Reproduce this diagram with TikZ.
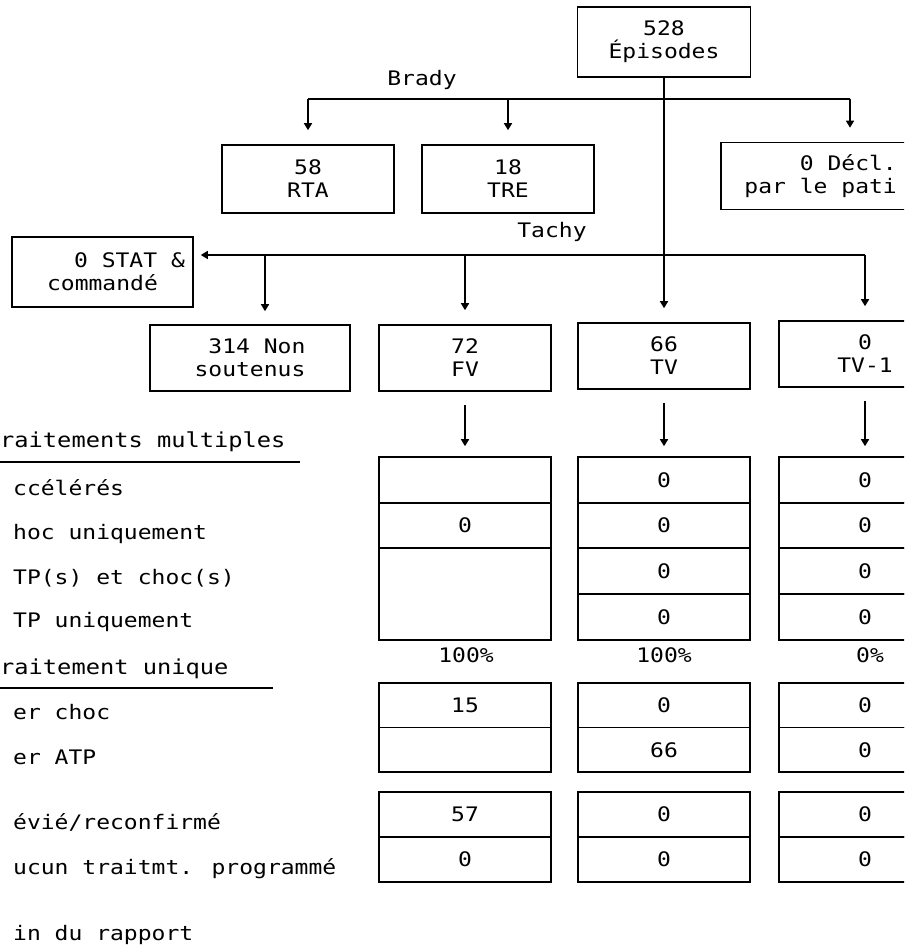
\documentclass[tikz,border=0pt]{standalone}
\usepackage{fontspec}
\setmainfont{DejaVu Sans Mono}[FakeStretch=1.15]
\usetikzlibrary{arrows.meta}
\begin{document}
\begin{tikzpicture}[x=1pt,y=-1pt,
  every node/.style={font=\fontsize{20}{23}\selectfont, inner sep=0pt},
  box/.style={draw, line width=1.6pt, align=center, minimum width=172pt, minimum height=66pt},
  cell/.style={draw, line width=1.6pt, minimum width=172pt, minimum height=45.5pt},
  arr/.style={line width=1.6pt, -{Triangle[length=7pt,width=8pt]}},
  ln/.style={line width=1.6pt},
  lab/.style={anchor=base west},
  hdr/.style={anchor=base west, font=\fontsize{20.6}{23}\selectfont}]
\useasboundingbox (0,0) rectangle (904,952);
\clip (0,0) rectangle (904,952);

% top
\node[box, minimum width=173pt, minimum height=70pt] (ep) at (664,42) {528\\Épisodes};
\node (brady) at (422,80) {Brady};
\coordinate (bj) at (664,99);
\node[box, minimum height=68pt] (rta) at (308,179) {58\\RTA};
\node[box, minimum height=68pt] (tre) at (508,179) {18\\TRE};
\node[box, minimum width=258pt, minimum height=67pt] (decl) at (850,176) {};
\node[anchor=east, align=right] (decltxt) at (897,176) {0 Décl.\\par le pati};

\draw[ln] (rta.north |- bj) -- (decl.north |- bj);
\draw[arr, shorten >=14pt] (rta.north |- bj) -- (rta.north);
\draw[arr, shorten >=14pt] (tre.north |- bj) -- (tre.north);
\draw[arr, shorten >=14pt] (decl.north |- bj) -- (decl.north);

% tachy level
\node (tachy) at (552,232) {Tachy};
\coordinate (tj) at (664,255);
\coordinate (nsdrop) at (265,255);
\node[box, minimum width=181pt, minimum height=70pt] (stat) at (102.5,272) {\hspace*{54pt}0 STAT \&\\commandé};
\node[box, minimum width=200pt, align=right] (ns) at (250,358) {314 Non\\soutenus};
\node[box] (fv) at (465,358) {72\\FV};
\node[box] (tv) at (664,356) {66\\TV};
\node[box] (tv1) at (865,354) {0\\TV-1};

\draw[arr, shorten >=14pt] (ep.south) -- (ep.south |- tv.north);
\draw[arr, shorten >=7pt] (tv1.north |- tj) -- (stat.east |- tj);
\draw[arr, shorten >=13pt] (nsdrop) -- (nsdrop |- ns.north);
\draw[arr, shorten >=14pt] (fv.north |- tj) -- (fv.north);
\draw[arr, shorten >=14pt] (tv1.north |- tj) -- (tv1.north);

% table block 1
\node[cell] (fv1) at (465,479.75) {};
\node[cell] (fv2) at (465,525.5) {0};
\node[cell, minimum height=91.5pt] (fv3) at (465,594.25) {};
\node[cell] (tva) at (664,479.75) {0};
\node[cell] (tvb) at (664,525.5) {0};
\node[cell] (tvc) at (664,571.25) {0};
\node[cell] (tvd) at (664,617) {0};
\node[cell] (tw1a) at (865,479.75) {0};
\node[cell] (tw1b) at (865,525.5) {0};
\node[cell] (tw1c) at (865,571.25) {0};
\node[cell] (tw1d) at (865,617) {0};

\draw[arr, shorten <=13pt, shorten >=10pt] (fv.south) -- (fv1.north);
\draw[arr, shorten <=13pt, shorten >=10pt] (tv.south) -- (tva.north);
\draw[arr, shorten <=13pt, shorten >=10pt] (tv1.south) -- (tw1a.north);

% percentages
\node (pfv) at (466,655) {100\%};
\node (ptv) at (664,655) {100\%};
\node (ptw) at (870,655) {0\%};

% block 2
\node[cell, minimum height=44.5pt] (fv4) at (465,705.25) {15};
\node[cell, minimum height=44.5pt] (fv5) at (465,749.75) {};
\node[cell, minimum height=44.5pt] (tve) at (664,705.25) {0};
\node[cell, minimum height=44.5pt] (tvf) at (664,749.75) {66};
\node[cell, minimum height=44.5pt] (tw1e) at (865,705.25) {0};
\node[cell, minimum height=44.5pt] (tw1f) at (865,749.75) {0};

% block 3
\node[cell, minimum height=45pt] (fv6) at (465,814.5) {57};
\node[cell, minimum height=45pt] (fv7) at (465,859.5) {0};
\node[cell, minimum height=45pt] (tvg) at (664,814.5) {0};
\node[cell, minimum height=45pt] (tvh) at (664,859.5) {0};
\node[cell, minimum height=45pt] (tw1g) at (865,814.5) {0};
\node[cell, minimum height=45pt] (tw1h) at (865,859.5) {0};

% row labels (as far as the sheet shows them)
\node[hdr] (l1) at (0,447) {raitements multiples};
\draw[ln] (0,462) -- (300,462);
\node[lab] (l2) at (13,495) {ccélérés};
\node[lab] (l3) at (13,539) {hoc uniquement};
\node[lab] (l4) at (13,584) {TP(s) et choc(s)};
\node[lab] (l5) at (13,627) {TP uniquement};
\node[hdr] (l6) at (0,674) {raitement unique};
\draw[ln] (0,688) -- (273,688);
\node[lab] (l7) at (13,719) {er choc};
\node[lab] (l8) at (13,764) {er ATP};
\node[lab] (l9) at (13,829) {évié/reconfirmé};
\node[lab] (l10) at (13,874) {ucun traitmt. programmé};
\node[lab] (l11) at (13,940) {in du rapport};
\end{tikzpicture}
\end{document}
